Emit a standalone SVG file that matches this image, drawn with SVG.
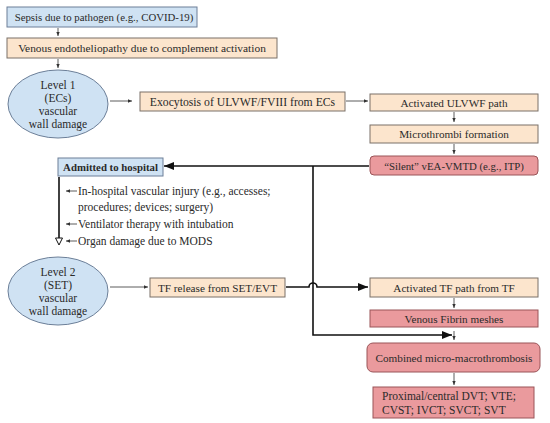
<svg xmlns="http://www.w3.org/2000/svg" width="550" height="423" viewBox="0 0 550 423">
<style>
text{font-family:"Liberation Serif","Times New Roman",serif;font-size:11.2px;fill:#2a2a2a;}
.c{text-anchor:middle;}
.s{font-size:10.8px;}
.m{font-size:11.5px;}
.blue{fill:#cfe2f3;stroke:#6c7f98;stroke-width:1;}
.peach{fill:#fce5cd;stroke:#7a7068;stroke-width:1;}
.pink{fill:#ea9a9d;stroke:#9a5458;stroke-width:1;}
.thin{stroke:#333;stroke-width:0.8;fill:none;}
.thick{stroke:#111;stroke-width:1.6;fill:none;}
</style>
<defs>
<marker id="a" viewBox="0 0 6 6" refX="6" refY="3" markerWidth="4" markerHeight="4" orient="auto" markerUnits="userSpaceOnUse"><path d="M0,0.5 L6,3 L0,5.5 z" fill="#333"/></marker>
<marker id="b" viewBox="0 0 10 8" refX="10" refY="4" markerWidth="10" markerHeight="8" orient="auto" markerUnits="userSpaceOnUse"><path d="M0,0 L10,4 L0,8 z" fill="#111"/></marker>
</defs>

<g id="connectors">
<line class="thin" x1="58" y1="28" x2="58" y2="36" marker-end="url(#a)"/>
<line class="thin" x1="58" y1="59" x2="58" y2="68" marker-end="url(#a)"/>
<line class="thin" x1="110" y1="101" x2="132" y2="101" marker-end="url(#a)"/>
<line class="thin" x1="346" y1="101" x2="368" y2="101" marker-end="url(#a)"/>
<line class="thin" x1="454" y1="112" x2="454" y2="122" marker-end="url(#a)"/>
<line class="thin" x1="454" y1="144" x2="454" y2="154" marker-end="url(#a)"/>
<line class="thick" x1="369" y1="166" x2="164" y2="166" marker-end="url(#b)"/>
<path class="thick" d="M313,166 V335 H452" marker-end="url(#b)"/>
<line class="thick" x1="59" y1="177" x2="59" y2="239"/>
<path d="M55.5,238 L62.5,238 L59,245 z" fill="#fff" stroke="#111" stroke-width="1"/>
<line class="thin" x1="77" y1="191" x2="66" y2="191" marker-end="url(#a)"/>
<line class="thin" x1="77" y1="224" x2="66" y2="224" marker-end="url(#a)"/>
<line class="thin" x1="77" y1="241" x2="66" y2="241" marker-end="url(#a)"/>
<line class="thin" x1="110" y1="287" x2="148" y2="287" marker-end="url(#a)"/>
<path class="thick" d="M286,287 H309 A4,4 0 0 1 317,287 H368" marker-end="url(#b)"/>
<line class="thin" x1="454" y1="298" x2="454" y2="308" marker-end="url(#a)"/>
<line class="thin" x1="454" y1="331" x2="454" y2="340" marker-end="url(#a)"/>
<line class="thin" x1="454" y1="373" x2="454" y2="385" marker-end="url(#a)"/>
</g>

<g id="n1"><rect class="blue" x="7" y="7" width="190" height="20"/><text class="c s" x="104" y="20.5">Sepsis due to pathogen (e.g., COVID-19)</text></g>
<g id="n2"><rect class="peach" x="7" y="38" width="270" height="20"/><text class="c" x="142" y="51.5" style="font-size:11.4px">Venous endotheliopathy due to complement activation</text></g>
<g id="n3"><ellipse class="blue" cx="58" cy="104" rx="50" ry="34"/>
<text class="c m" x="58" y="89">Level 1</text><text class="c m" x="58" y="102">(ECs)</text><text class="c m" x="58" y="115">vascular</text><text class="c m" x="58" y="128">wall damage</text></g>
<g id="n4"><rect class="peach" x="140" y="92" width="205" height="19"/><text class="c" x="242.5" y="105.5" style="font-size:11.7px">Exocytosis of ULVWF/FVIII from ECs</text></g>
<g id="n5"><rect class="peach" x="370" y="94" width="168" height="17"/><text class="c" x="454" y="106.5">Activated ULVWF path</text></g>
<g id="n6"><rect class="peach" x="370" y="125" width="168" height="18"/><text class="c" x="454" y="138">Microthrombi formation</text></g>
<g id="n7"><rect class="pink" x="370" y="156" width="168" height="19" rx="4"/><text class="c s" x="454" y="169.5">“Silent” vEA-VMTD (e.g., ITP)</text></g>
<g id="n8"><rect class="blue" x="58" y="158" width="105" height="18"/><text class="c s" x="110.5" y="171" font-weight="bold">Admitted to hospital</text></g>
<g id="n9">
<text class="m" x="78" y="195">In-hospital vascular injury (e.g., accesses;</text>
<text class="m" x="78" y="211">procedures; devices; surgery)</text>
<text class="m" x="78" y="228">Ventilator therapy with intubation</text>
<text class="m" x="78" y="245">Organ damage due to MODS</text>
</g>
<g id="n10"><ellipse class="blue" cx="58" cy="291" rx="50" ry="34"/>
<text class="c m" x="58" y="276">Level 2</text><text class="c m" x="58" y="289">(SET)</text><text class="c m" x="58" y="302">vascular</text><text class="c m" x="58" y="315">wall damage</text></g>
<g id="n11"><rect class="peach" x="150" y="278" width="135" height="19"/><text class="c" x="217.5" y="291.5">TF release from SET/EVT</text></g>
<g id="n12"><rect class="peach" x="370" y="278" width="168" height="19"/><text class="c" x="454" y="291.5">Activated TF path from TF</text></g>
<g id="n13"><rect class="pink" x="370" y="310" width="168" height="17"/><text class="c" x="454" y="322.5">Venous Fibrin meshes</text></g>
<g id="n14"><rect class="pink" x="367" y="343" width="173" height="29" rx="6"/><text class="c" x="454" y="361.5">Combined micro-macrothrombosis</text></g>
<g id="n15"><rect class="pink" x="373" y="387" width="161" height="31"/><text class="m" x="382" y="400">Proximal/central DVT; VTE;</text><text class="m" x="382" y="414">CVST; IVCT; SVCT; SVT</text></g>
</svg>
